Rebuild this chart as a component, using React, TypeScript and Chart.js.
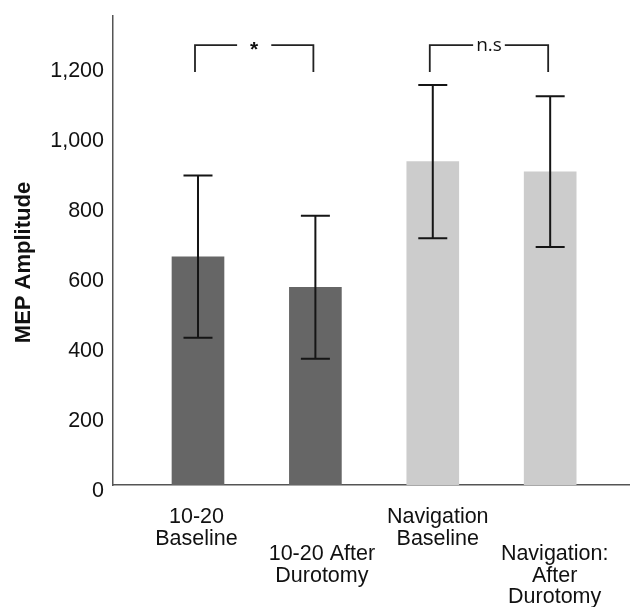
import React, { useEffect, useRef } from "react";
import { Chart, registerables } from "chart.js";

Chart.register(...registerables);

const categoryLines: string[][] = [
  ["10-20", "Baseline"],
  ["10-20 After", "Durotomy"],
  ["Navigation", "Baseline"],
  ["Navigation:", "After", "Durotomy"],
];
const labelRow = [0, 1, 0, 1];
const means = [652, 565, 924, 895];
const errLow = [421, 361, 705, 680];
const errHigh = [884, 769, 1143, 1111];
const barColors = ["#666666", "#666666", "#cccccc", "#cccccc"];
const yTicks = [0, 200, 400, 600, 800, 1000, 1200];
const yTitle = "MEP Amplitude";
const brackets = [
  { from: 0, to: 1, label: "*", top: 1257, bottom: 1180 },
  { from: 2, to: 3, label: "n.s", top: 1257, bottom: 1180 },
];

const FONT = '"Liberation Sans", Arial, sans-serif';
const LABEL_SHIFT = [-1.5, 6.5, 5, 4.5];

const overlay = {
  id: "overlay",
  afterDatasetsDraw(chart: any) {
    const ctx = chart.ctx;
    const xs = chart.scales.x;
    const ys = chart.scales.y;
    ctx.save();
    // error bars
    ctx.strokeStyle = "#151515";
    ctx.lineWidth = 2;
    for (let i = 0; i < means.length; i++) {
      const cx = xs.getPixelForValue(i);
      const y1 = ys.getPixelForValue(errHigh[i]);
      const y2 = ys.getPixelForValue(errLow[i]);
      ctx.beginPath();
      ctx.moveTo(cx, y1);
      ctx.lineTo(cx, y2);
      ctx.moveTo(cx - 14.5, y1);
      ctx.lineTo(cx + 14.5, y1);
      ctx.moveTo(cx - 14.5, y2);
      ctx.lineTo(cx + 14.5, y2);
      ctx.stroke();
    }
    // brackets
    for (const b of brackets) {
      const xa = xs.getPixelForValue(b.from) - 3;
      const xb = xs.getPixelForValue(b.to) - 2;
      const yt = ys.getPixelForValue(b.top);
      const yb = ys.getPixelForValue(b.bottom);
      const mid = (xa + xb) / 2;
      ctx.font = b.label === "*" ? `bold 21px ${FONT}` : `19px "Open Sans", ${FONT}`;
      const w = ctx.measureText(b.label).width;
      const gap = w / 2 + (b.label === "*" ? 13 : 3);
      ctx.strokeStyle = "#222";
      ctx.lineWidth = 1.8;
      ctx.beginPath();
      ctx.moveTo(xa, yb);
      ctx.lineTo(xa, yt);
      ctx.lineTo(mid - gap, yt);
      ctx.moveTo(mid + gap, yt);
      ctx.lineTo(xb, yt);
      ctx.lineTo(xb, yb);
      ctx.stroke();
      ctx.fillStyle = "#111";
      ctx.textAlign = "center";
      ctx.textBaseline = "middle";
      ctx.fillText(b.label, mid, b.label === "*" ? yt + 5 : yt + 1);
    }
    ctx.restore();
  },
  afterDraw(chart: any) {
    const ctx = chart.ctx;
    const xs = chart.scales.x;
    const area = chart.chartArea;
    ctx.save();
    ctx.fillStyle = "#111";
    ctx.textAlign = "center";
    ctx.textBaseline = "middle";
    ctx.font = `21.5px ${FONT}`;
    for (let i = 0; i < categoryLines.length; i++) {
      const cx = xs.getPixelForValue(i) + LABEL_SHIFT[i];
      const y0 = area.bottom + (labelRow[i] === 0 ? 32 : 69);
      categoryLines[i].forEach((line, k) => {
        ctx.fillText(line, cx, y0 + k * 21.7);
      });
    }
    // y title
    ctx.font = `bold 22px ${FONT}`;
    ctx.translate(24, (area.top + area.bottom) / 2 + 12);
    ctx.rotate(-Math.PI / 2);
    ctx.fillText(yTitle, 0, 0);
    ctx.restore();
  },
};

export default function App() {
  const ref = useRef<HTMLCanvasElement | null>(null);
  useEffect(() => {
    document.body.style.margin = "0";
    if (!ref.current) return;
    const chart = new Chart(ref.current, {
      type: "bar",
      data: {
        datasets: [
          {
            data: means.map((v, i) => ({ x: i, y: v })),
            backgroundColor: barColors,
            borderWidth: 0,
            barThickness: 52,
          },
        ],
      },
      options: {
        responsive: false,
        animation: false,
        layout: { padding: { top: 16, right: 0, left: 0, bottom: 0 } },
        plugins: { legend: { display: false }, tooltip: { enabled: false } },
        scales: {
          x: {
            type: "linear",
            offset: false,
            min: -0.724,
            max: 3.68,
            grid: { display: false },
            border: { display: true, color: "#555", width: 1.5 },
            ticks: { display: false },
            afterFit: (s: any) => {
              s.height = 122;
              s.paddingLeft = 0;
              s.paddingRight = 0;
            },
          },
          y: {
            min: 0,
            max: 1340,
            grid: { display: false, drawTicks: false },
            border: { display: true, color: "#555", width: 1.5 },
            afterBuildTicks: (s: any) => {
              s.ticks = yTicks.map((v) => ({ value: v }));
            },
            afterFit: (s: any) => {
              s.width = 113;
              s.paddingTop = 0;
              s.paddingBottom = 0;
            },
            ticks: {
              padding: 9,
              labelOffset: 6,
              color: "#111",
              font: { family: FONT, size: 21.5 },
              callback: (v: any) => Number(v).toLocaleString("en-US"),
            },
          },
        },
      },
      plugins: [overlay],
    });
    return () => chart.destroy();
  }, []);
  return (
    <div style={{ position: "absolute", left: 0, top: 0, width: 630, height: 607 }}>
      <canvas ref={ref} width={630} height={607} />
    </div>
  );
}
